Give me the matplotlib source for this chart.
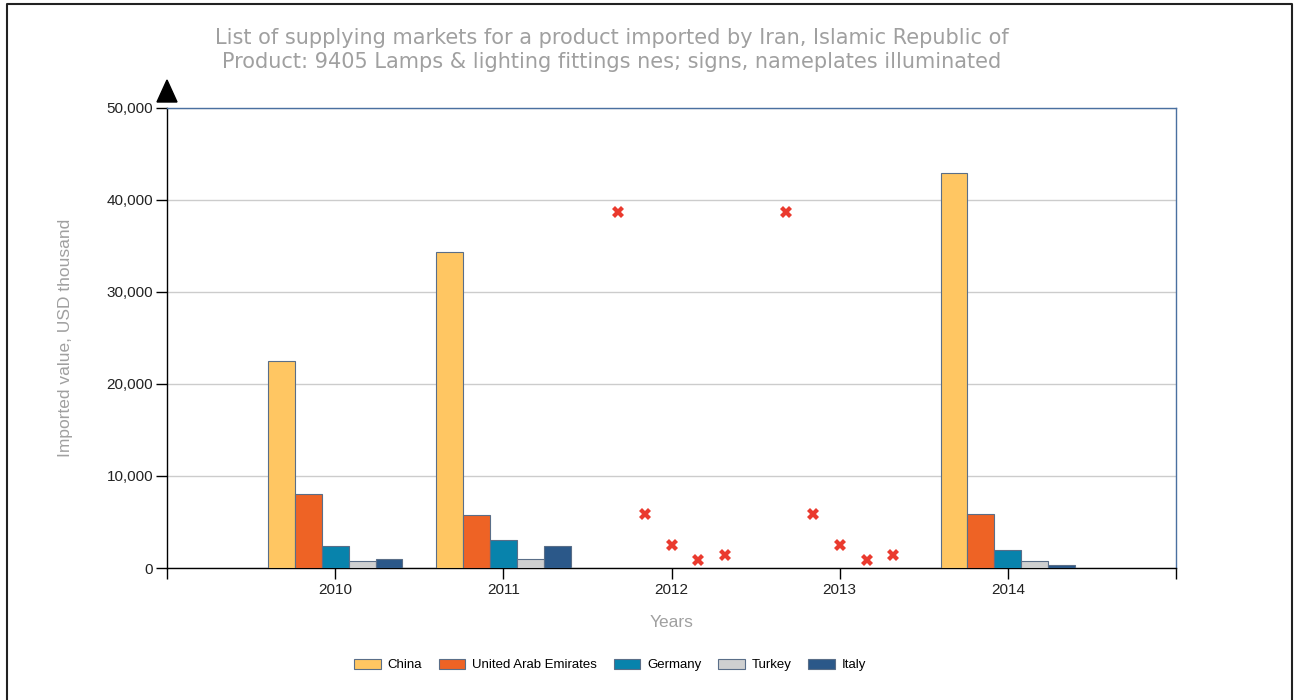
import numpy as np
import matplotlib
matplotlib.use('Agg')
from matplotlib import pyplot as plt
from matplotlib.patches import Rectangle, Polygon

years = ['2010', '2011', '2012', '2013', '2014']
countries = ['China', 'United Arab Emirates', 'Germany', 'Turkey', 'Italy']
colors = ['#FFC662', '#EE6325', '#0883AC', '#CFD0D0', '#2B5889']

# values per country, None = no data reported (drawn as red cross)
china = [22500, 34400, None, None, 42900]
uae = [8000, 5800, None, None, 5900]
germany = [2400, 3000, None, None, 2000]
turkey = [800, 1000, None, None, 800]
italy = [1000, 2400, None, None, 350]
series = [china, uae, germany, turkey, italy]

# position of the "missing data" crosses
missing_vals = [38700, 5900, 2500, 900, 1400]

arial = 'Liberation Sans'

fig = plt.figure(figsize=(12.95, 7.0), dpi=100)
ax = fig.add_axes([167/1295, 1 - 568/700, (1176-167)/1295, (568-108)/700])

x = np.arange(len(years))
w = 0.16
for i, (name, vals, c) in enumerate(zip(countries, series, colors)):
    off = (i - 2) * w
    for j, v in enumerate(vals):
        if v is None:
            ax.plot(x[j] + off, missing_vals[i], marker='X', color='#EA3A2E',
                    markersize=9, markeredgewidth=0, zorder=4)
        else:
            ax.bar(x[j] + off, v, width=w, color=c, edgecolor='#5A6E88',
                   linewidth=0.8, zorder=3)

ax.set_xlim(-1, 5)
ax.set_ylim(0, 50000)
ax.set_yticks([0, 10000, 20000, 30000, 40000, 50000])
ax.set_yticklabels(['0', '10,000', '20,000', '30,000', '40,000', '50,000'], fontfamily=arial)
ax.set_xticks(list(x) + [-1, 5])
ax.set_xticklabels(years + ['', ''], fontfamily=arial)
ax.tick_params(axis='x', length=8, width=1, colors='black', labelsize=11, labelcolor='#222222', pad=3)
ax.tick_params(axis='y', length=8, width=1, colors='black', labelsize=11, labelcolor='#222222', pad=2)
ax.yaxis.grid(True, color='#CCCCCC', linewidth=1, zorder=0)
ax.set_axisbelow(True)

ax.spines['top'].set_color('#4A70A0')
ax.spines['right'].set_color('#4A70A0')
ax.spines['left'].set_color('black')
ax.spines['bottom'].set_color('black')
for s in ax.spines.values():
    s.set_linewidth(1)

ax.set_ylabel('Imported value, USD thousand', color='#A0A0A0', fontsize=12.5,
              fontfamily=arial, labelpad=24)
ax.set_xlabel('Years', color='#A0A0A0', fontsize=12.5, fontfamily=arial, labelpad=13)

# arrow head on top of y axis
fig.patches.append(Polygon(
    [[157/1295, 1 - 102/700], [177/1295, 1 - 102/700], [167/1295, 1 - 80/700]],
    closed=True, color='black', transform=fig.transFigure))

fig.text(612/1295, 1 - 38/700, 'List of supplying markets for a product imported by Iran, Islamic Republic of',
         ha='center', va='center', fontsize=15, color='#A0A0A0')
fig.text(612/1295, 1 - 62/700, 'Product: 9405 Lamps & lighting fittings nes; signs, nameplates illuminated',
         ha='center', va='center', fontsize=15, color='#A0A0A0')

handles = [Rectangle((0, 0), 1, 1, facecolor=c, edgecolor='#5A6E88', linewidth=0.8) for c in colors]
fig.legend(handles, countries, loc='center', bbox_to_anchor=(610/1295, 1 - 665/700), ncol=5,
           frameon=False, prop={'family': arial, 'size': 9.5}, handlelength=2.0,
           handleheight=0.8, columnspacing=1.3, handletextpad=0.5)

# outer border (top, left, right)
fig.add_artist(plt.Line2D([7/1295, 7/1295, 1292/1295, 1292/1295],
                          [0, 1 - 4/700, 1 - 4/700, 0], color='#222222', linewidth=1.5,
                          transform=fig.transFigure))

fig.savefig('out.png', dpi=100)
